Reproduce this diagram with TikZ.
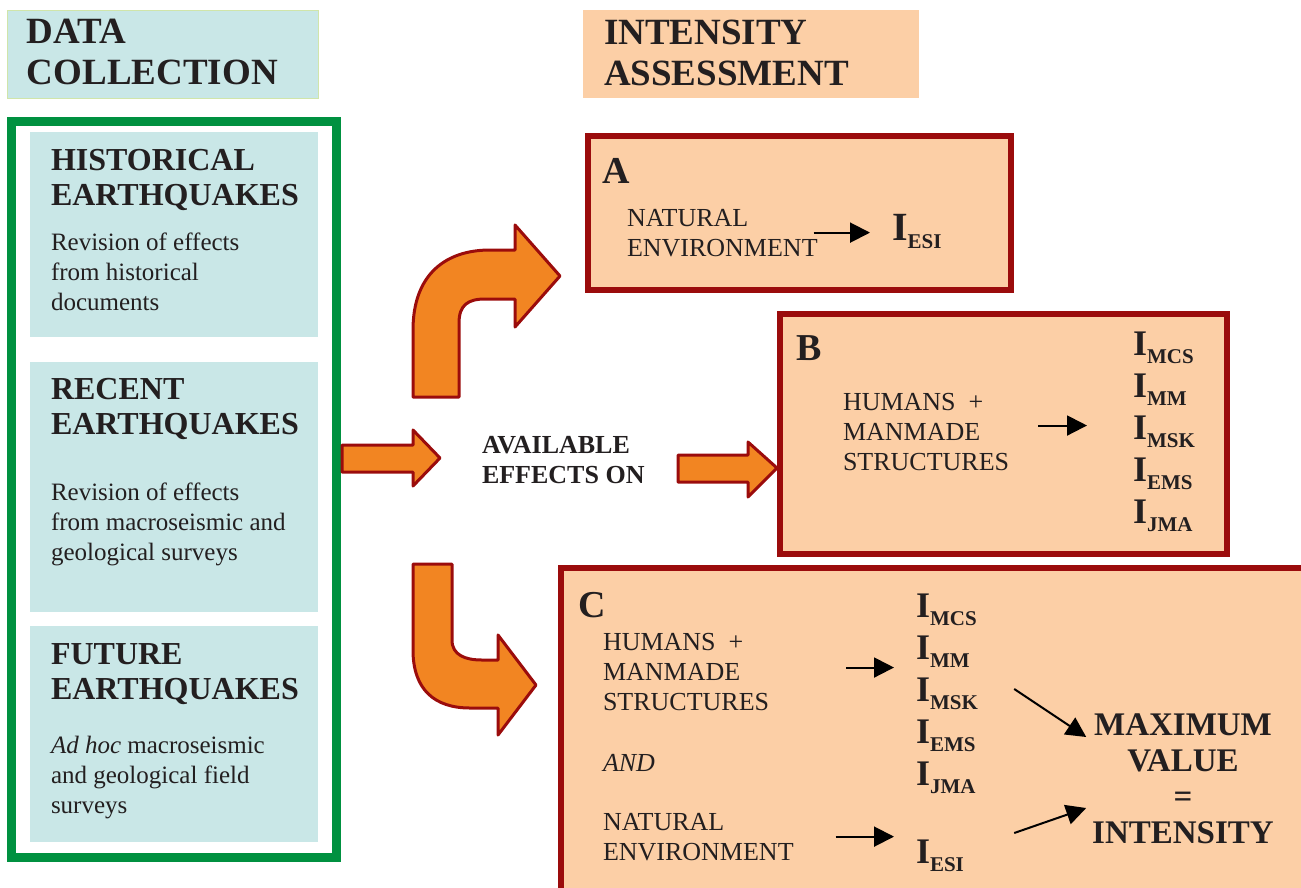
\documentclass[tikz,border=0pt]{standalone}
\usepackage{fontspec}
\setmainfont{Liberation Serif}
\usetikzlibrary{arrows.meta}
\usetikzlibrary{calc}
\usepackage{xcolor}

\definecolor{txt}{RGB}{35,31,32}
\definecolor{cyanbox}{RGB}{201,231,231}
\definecolor{headline}{RGB}{208,229,170}
\definecolor{peach}{RGB}{252,207,166}
\definecolor{darkred}{RGB}{155,12,12}
\definecolor{orangearrow}{RGB}{242,133,34}
\definecolor{framegreen}{RGB}{0,145,64}

\newcommand{\intsym}[1]{\textbf{I}\raisebox{-8pt}{\fontsize{21}{21}\selectfont\bfseries #1}}

\begin{document}
\begin{tikzpicture}[x=1pt, y=-1pt, >={Triangle[length=20pt, width=20pt]},
    every node/.style={inner sep=0pt, outer sep=0pt, text=txt},
    heading/.style={font=\fontsize{37}{41}\selectfont\bfseries, align=left, anchor=base west},
    subhead/.style={font=\fontsize{32}{35}\selectfont\bfseries, align=left, anchor=base west},
    body/.style={font=\fontsize{25}{30}\selectfont, align=left, anchor=base west},
    boxtext/.style={font=\fontsize{26}{30}\selectfont, align=left, anchor=base west},
    letter/.style={font=\fontsize{38}{38}\selectfont\bfseries, anchor=base west},
    isym/.style={font=\fontsize{36}{36}\selectfont, anchor=base west},
    conn/.style={->, line width=2pt, black},
    blockarrow/.style={fill=orangearrow, draw=darkred, line width=3pt, line join=round},
    redbox/.style={fill=peach, draw=darkred, line width=6pt, anchor=north west}]
      \useasboundingbox (0,0) rectangle (1301,887);
      \clip (0,0) rectangle (1301,887);

      % headers (multi-line nodes sit on the baseline of their last line)
      \node [name=dchbox, fill=cyanbox, draw=headline, line width=1pt,
        minimum width=311, minimum height=88, anchor=north west] at (7,10) {};
      \node [heading, name=dchead] at (27,84) {DATA\\COLLECTION};
      \node [name=iahbox, fill=peach, minimum width=336, minimum height=88,
        anchor=north west] at (583,10) {};
      \node [heading, name=iahead] at (604,85) {INTENSITY\\ASSESSMENT};

      % data collection: three kinds of earthquakes
      \node [name=histbox, fill=cyanbox, minimum width=288, minimum height=205,
        anchor=north west] at (30,132) {};
      \node [subhead, name=histhead] at (51,205) {HISTORICAL\\EARTHQUAKES};
      \node [body, name=histtext] at (51,310) {Revision of effects\\from historical\\documents};

      \node [name=recbox, fill=cyanbox, minimum width=288, minimum height=250,
        anchor=north west] at (30,362) {};
      \node [subhead, name=rechead] at (51,434) {RECENT\\EARTHQUAKES};
      \node [body, name=rectext] at (51,560) {Revision of effects\\from macroseismic and\\geological surveys};

      \node [name=futbox, fill=cyanbox, minimum width=288, minimum height=216,
        anchor=north west] at (30,626) {};
      \node [subhead, name=futhead] at (51,699) {FUTURE\\EARTHQUAKES};
      \node [body, name=futtext] at (51,813) {\textit{Ad hoc} macroseismic\\and geological field\\surveys};

      \draw [framegreen, line width=9pt] (11.5,121.5) rectangle (336.5,857.5);

      % orange arrows
      \draw [blockarrow] (342,445) -- (413,445) -- (413,430) -- (440,458)
        -- (413,486) -- (413,472) -- (342,472) -- cycle;
      \node [name=avail, font=\fontsize{26}{30}\selectfont\bfseries, align=left,
        anchor=base west] at (482,483) {AVAILABLE\\EFFECTS ON};
      \draw [blockarrow] (678,455) -- (748,455) -- (748,442) -- (777,468)
        -- (748,497) -- (748,482) -- (678,482) -- cycle;
      \draw [blockarrow] (413,397) -- (413,330) .. controls (413,275) and (445,250) .. (490,250)
        -- (515,250) -- (515,225) -- (560,276) -- (515,327) -- (515,299) -- (485,299)
        .. controls (468,299) and (459,305) .. (459,323) -- (459,397) -- cycle;
      \draw [blockarrow] (413,564) -- (452,564) -- (452,640) .. controls (452,655) and (465,660) .. (482,660)
        -- (498,660) -- (498,635) -- (536,685) -- (498,735) -- (498,708) -- (470,708)
        .. controls (435,708) and (413,690) .. (413,650) -- cycle;

      % box A
      \node [redbox, name=boxA, minimum width=423, minimum height=154] at (588,136) {};
      \node [letter, name=labA] at (602,183) {A};
      \node [boxtext, name=natA] at (627,256) {NATURAL\\ENVIRONMENT};
      \node [isym, font=\fontsize{40}{40}\selectfont, name=esiA] at (892,240) {\intsym{ESI}};
      \draw [conn, shorten <=-4pt, shorten >=22pt] (natA.east) -- (natA.east -| esiA.west);

      % box B
      \node [redbox, name=boxB, minimum width=447, minimum height=240] at (780,314) {};
      \node [letter, name=labB] at (796,360) {B};
      \node [boxtext, name=humB] at (843,470) {HUMANS\ \ +\\MANMADE\\STRUCTURES};
      \coordinate (listB) at (1133,355);
      \coordinate (ydistance) at (0,42);
      \node [isym, name=imcsB] at (listB) {\intsym{MCS}};
      \node [isym, name=immB] at ($(listB) + (ydistance)$) {\intsym{MM}};
      \node [isym, name=imskB] at ($(listB) + 2*(ydistance)$) {\intsym{MSK}};
      \node [isym, name=iemsB] at ($(listB) + 3*(ydistance)$) {\intsym{EMS}};
      \node [isym, name=ijmaB] at ($(listB) + 4*(ydistance)$) {\intsym{JMA}};
      \draw [conn, transform canvas={yshift=6pt}, shorten <=29pt, shorten >=46pt]
        (humB.east) -- (humB.east -| imskB.west);

      % box C
      \node [redbox, name=boxC, minimum width=760, minimum height=340] at (561,568) {};
      \node [letter, name=labC] at (578,617) {C};
      \node [boxtext, name=humC] at (603,710) {HUMANS\ \ +\\MANMADE\\STRUCTURES};
      \node [boxtext, name=andC] at (603,771) {\textit{AND}};
      \node [boxtext, name=natC] at (603,860) {NATURAL\\ENVIRONMENT};
      \coordinate (listC) at (916,617);
      \node [isym, name=imcsC] at (listC) {\intsym{MCS}};
      \node [isym, name=immC] at ($(listC) + (ydistance)$) {\intsym{MM}};
      \node [isym, name=imskC] at ($(listC) + 2*(ydistance)$) {\intsym{MSK}};
      \node [isym, name=iemsC] at ($(listC) + 3*(ydistance)$) {\intsym{EMS}};
      \node [isym, name=ijmaC] at ($(listC) + 4*(ydistance)$) {\intsym{JMA}};
      \node [isym, name=iesiC] at (916,863) {\intsym{ESI}};
      \draw [conn, transform canvas={yshift=4pt}, shorten <=77pt, shorten >=22pt]
        (humC.east) -- (humC.east -| immC.west);
      \draw [conn, shorten <=42pt, shorten >=22pt] (natC.east) -- (natC.east -| iesiC.west);

      \node [name=maxC, font=\fontsize{33}{36}\selectfont\bfseries, align=center,
        anchor=north] at (1183,714) {MAXIMUM\\VALUE\\=\\INTENSITY};
      \draw [conn] ($(maxC.north west)+(-78,-25)$) -- ($(maxC.north west)+(-6,23)$);
      \draw [conn] ($(maxC.north west)+(-78,119)$) -- ($(maxC.north west)+(-6,94)$);
\end{tikzpicture}
\end{document}
